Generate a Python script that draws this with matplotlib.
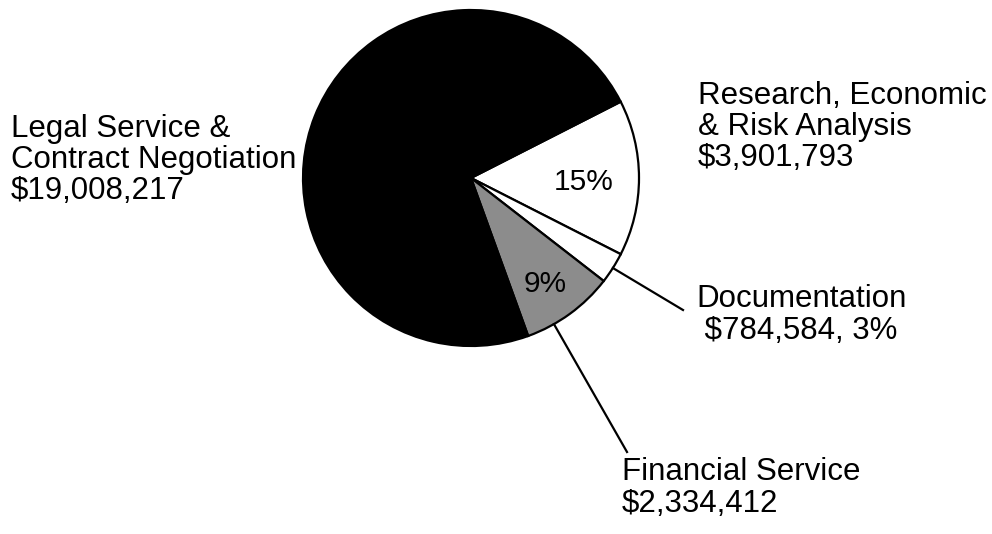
import numpy as np
import matplotlib.pyplot as plt

labels = ["Research, Economic\n& Risk Analysis\n$3,901,793",
          "Documentation\n $784,584, 3%",
          "Financial Service\n$2,334,412",
          "Legal Service &\nContract Negotiation\n$19,008,217"]
values = [3901793, 784584, 2334412, 19008217]
inside = ["15%", "", "9%", ""]
colors = ["white", "white", "#8c8c8c", "black"]

W, H = 992, 534
fig = plt.figure(figsize=(W / 100, H / 100), dpi=100)
ax = fig.add_axes([0, 0, 1, 1])

cx, cy, r = 471, H - 178, 168
start = 27
wedges, _ = ax.pie(values, colors=colors, startangle=start, counterclock=False,
                   center=(cx, cy), radius=r, frame=True,
                   wedgeprops=dict(edgecolor="black", linewidth=1.6))
ax.set_xlim(0, W)
ax.set_ylim(0, H)
ax.axis("off")

plt.rcParams["font.family"] = ["Liberation Sans", "DejaVu Sans"]
fs = 22.5

# in-slice percentages (radial position as fraction of radius)
inside_pos = [0.67, 0, 0.75, 0]
for w, txt, f in zip(wedges, inside, inside_pos):
    if not txt:
        continue
    mid = np.deg2rad((w.theta1 + w.theta2) / 2)
    ax.text(cx + f * r * np.cos(mid), cy + f * r * np.sin(mid) - 4, txt,
            ha="center", va="center", fontsize=21.5, color="black")

# outside labels
ax.text(698, H - 127, labels[0], ha="left", va="center", fontsize=fs, linespacing=1.05)
ax.text(696, H - 315, labels[1], ha="left", va="center", fontsize=fs, linespacing=1.05)
ax.text(622, H - 488, labels[2], ha="left", va="center", fontsize=fs, linespacing=1.05)
ax.text(11, H - 160, labels[3], ha="left", va="center", fontsize=fs, linespacing=1.05)

# leader lines from wedge edges
leaders = {1: (0.5, 683, H - 310), 2: (0.3, 627, H - 452)}
for i, (frac, ex, ey) in leaders.items():
    w = wedges[i]
    a = np.deg2rad(w.theta1 + frac * (w.theta2 - w.theta1))
    sx, sy = cx + r * np.cos(a), cy + r * np.sin(a)
    ax.plot([sx, ex], [sy, ey], color="black", linewidth=1.6)

fig.savefig("out.png", dpi=100)
